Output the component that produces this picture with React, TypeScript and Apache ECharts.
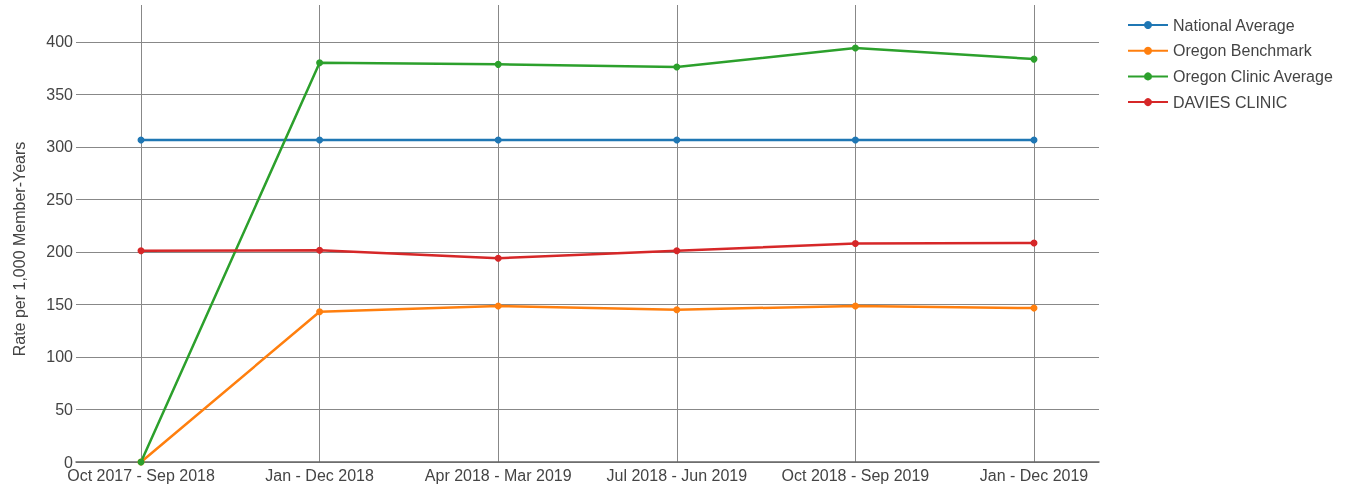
import React, { useEffect, useRef } from "react";
import * as echarts from "echarts";

const categories = [
  "Oct 2017 - Sep 2018",
  "Jan - Dec 2018",
  "Apr 2018 - Mar 2019",
  "Jul 2018 - Jun 2019",
  "Oct 2018 - Sep 2019",
  "Jan - Dec 2019",
];
const nationalAverage = [306.5, 306.5, 306.5, 306.5, 306.5, 306.5];
const oregonBenchmark = [0, 143, 148.5, 145, 148.5, 146.5];
const oregonClinicAverage = [0, 380, 378.5, 376, 394, 383.5];
const daviesClinic = [201, 201.5, 194, 201, 208, 208.5];
const yTicks = [0, 50, 100, 150, 200, 250, 300, 350, 400];

const seriesDefs = [
  { name: "National Average", data: nationalAverage, color: "#1f77b4" },
  { name: "Oregon Benchmark", data: oregonBenchmark, color: "#ff7f0e" },
  { name: "Oregon Clinic Average", data: oregonClinicAverage, color: "#2ca02c" },
  { name: "DAVIES CLINIC", data: daviesClinic, color: "#d62728" },
];

const FONT = "'Liberation Sans', Arial, sans-serif";

export default function App() {
  const ref = useRef<HTMLDivElement>(null);
  useEffect(() => {
    if (!ref.current) return;
    const chart = echarts.init(ref.current, undefined, { renderer: "svg" });
    const xIdx = categories.map((_, i) => i);
    chart.setOption({
      animation: false,
      textStyle: { fontFamily: FONT, color: "#444" },
      grid: { left: 76, right: 247, top: 5, bottom: 26 },
      legend: {
        orient: "vertical",
        left: 1122,
        top: 11,
        itemWidth: 40,
        itemHeight: 10,
        itemGap: 7.7,
        textStyle: { fontFamily: FONT, fontSize: 16, color: "#444", lineHeight: 18 },
        data: seriesDefs.map((s) => s.name),
      },
      xAxis: {
        type: "value",
        min: -0.364,
        max: 5.364,
        axisLine: { show: true, lineStyle: { color: "#666", width: 1.5 } },
        axisTick: { show: false, customValues: xIdx },
        axisLabel: {
          customValues: xIdx,
          margin: 5,
          fontSize: 16,
          color: "#444",
          fontFamily: FONT,
          formatter: (v: number) => categories[Math.round(v)] ?? "",
        },
        splitLine: { show: true, lineStyle: { color: "#888", width: 1 } },
      },
      yAxis: {
        type: "value",
        min: 0,
        max: 435,
        axisLine: { show: false },
        axisTick: { show: false, customValues: yTicks },
        axisLabel: {
          customValues: yTicks,
          margin: 3,
          fontSize: 16,
          color: "#444",
          fontFamily: FONT,
        },
        splitLine: { show: true, lineStyle: { color: "#888", width: 1 } },
      },
      graphic: [
        {
          type: "text",
          x: 19,
          y: 249,
          rotation: Math.PI / 2,
          style: {
            text: "Rate per 1,000 Member-Years",
            fontSize: 16,
            fontFamily: FONT,
            fill: "#444",
            align: "center",
            verticalAlign: "middle",
          },
        },
      ],
      series: seriesDefs.map((s) => ({
        name: s.name,
        type: "line",
        data: s.data.map((v, i) => [i, v]),
        symbol: "circle",
        symbolSize: 7,
        lineStyle: { width: 2.5, color: s.color },
        itemStyle: { color: s.color },
        z: 3,
      })),
    });
    return () => chart.dispose();
  }, []);
  return (
    <div
      ref={ref}
      style={{ position: "fixed", left: 0, top: 0, width: 1346, height: 488 }}
    />
  );
}
